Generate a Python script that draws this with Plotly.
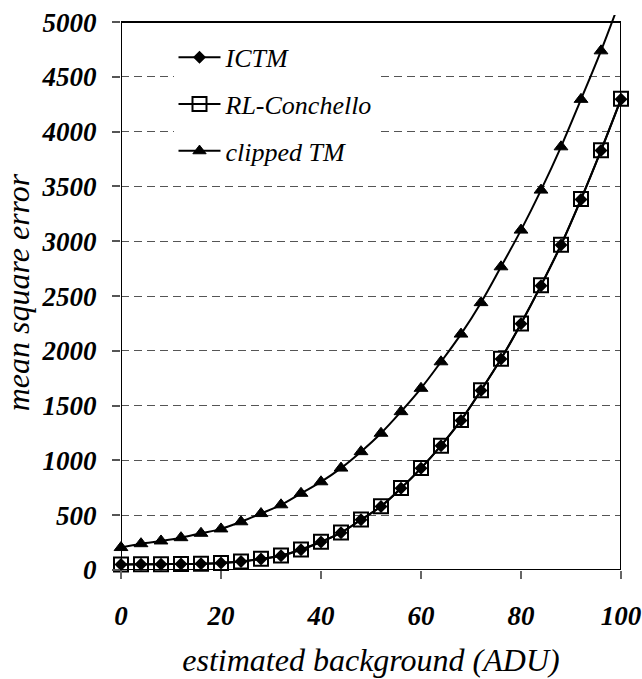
import plotly.graph_objects as go

# Estimated background level (ADU)
background = [0, 4, 8, 12, 16, 20, 24, 28, 32, 36, 40, 44, 48, 52,
              56, 60, 64, 68, 72, 76, 80, 84, 88, 92, 96, 100]

# Mean square error for each restoration method
mse_ictm = [50, 52, 53, 55, 58, 65, 78, 100, 130, 185, 255, 340, 458, 580,
            745, 928, 1135, 1365, 1638, 1925, 2248, 2595, 2965, 3382, 3828, 4297]
mse_rl_conchello = [50, 52, 53, 55, 58, 65, 78, 102, 132, 188, 258, 342, 460, 582,
                    748, 930, 1135, 1368, 1640, 1928, 2250, 2598, 2968, 3385, 3830, 4300]
mse_clipped_tm = [205, 240, 265, 295, 335, 375, 440, 515, 595, 700, 805, 930, 1080, 1248,
                  1445, 1658, 1900, 2153, 2440, 2767, 3102, 3467, 3862, 4295, 4738, 5220]

y_ticks = [0, 500, 1000, 1500, 2000, 2500, 3000, 3500, 4000, 4500, 5000]
x_ticks = [0, 20, 40, 60, 80, 100]
X_MAX = 100
Y_MAX = 5000

SERIF = "Liberation Serif"

fig = go.Figure()

# clipped TM: the last point lies above the axis maximum, so its marker is hidden
tri_sizes = [12 if v <= Y_MAX else 0 for v in mse_clipped_tm]
fig.add_trace(go.Scatter(
    x=background, y=mse_clipped_tm, name="clipped TM", mode="lines+markers",
    line=dict(color="black", width=2, shape="spline"),
    marker=dict(symbol="triangle-up", size=tri_sizes, color="black", opacity=1,
                line=dict(width=1, color="black")),
    cliponaxis=False, legendgroup="c", legendrank=3,
))
fig.add_trace(go.Scatter(
    x=background, y=mse_rl_conchello, name="RL-Conchello", mode="lines+markers",
    line=dict(color="black", width=2, shape="spline"),
    marker=dict(symbol="square-open", size=14, color="black", line=dict(width=2, color="black")),
    cliponaxis=False, legendgroup="b", legendrank=2,
))
fig.add_trace(go.Scatter(
    x=background, y=mse_ictm, name="ICTM", mode="lines+markers",
    line=dict(color="black", width=2, shape="spline"),
    marker=dict(symbol="diamond", size=10, color="black"),
    cliponaxis=False, legendgroup="a", legendrank=1,
))

# white panel behind the legend, hiding the grid there
fig.add_shape(type="rect", xref="paper", yref="paper", x0=0, x1=0.582, y0=0.72, y1=1,
              line=dict(width=0), fillcolor="white", layer="between")

# plot frame
fig.add_shape(type="rect", xref="x", yref="y", x0=0, x1=X_MAX, y0=0, y1=Y_MAX,
              line=dict(color="black", width=2), layer="above")

fig.update_layout(
    width=642, height=679,
    margin=dict(l=121, r=21, t=15, b=109, autoexpand=False),
    paper_bgcolor="white", plot_bgcolor="white",
    showlegend=True,
    legend=dict(
        x=0.105, y=0.966, xanchor="left", yanchor="top",
        bgcolor="white", borderwidth=0,
        font=dict(family=SERIF, size=26, style="italic", color="black"),
        tracegroupgap=10, itemwidth=42,
    ),
    xaxis=dict(
        range=[0, X_MAX], tickvals=x_ticks, showgrid=False, zeroline=False,
        showline=False, ticks="outside", ticklen=8, tickcolor="#666", tickwidth=1.5,
        tickfont=dict(family=SERIF, size=27, style="italic", weight="bold", color="black"),
        ticklabelstandoff=14, automargin=False,
        title=dict(text="estimated background (ADU)", standoff=18,
                   font=dict(family=SERIF, size=32, style="italic", color="black")),
    ),
    yaxis=dict(
        range=[0, 5065], tickvals=y_ticks, zeroline=False, showline=False,
        showgrid=True, gridcolor="#555", griddash="8px,5px", gridwidth=1.2,
        ticks="outside", ticklen=8, tickcolor="#555", tickwidth=1.5,
        tickfont=dict(family=SERIF, size=27, style="italic", weight="bold", color="black"),
        ticklabelstandoff=10, automargin=False,
        title=dict(text="mean square error", standoff=4,
                   font=dict(family=SERIF, size=32, style="italic", color="black")),
    ),
)

fig.write_html("out.html")
